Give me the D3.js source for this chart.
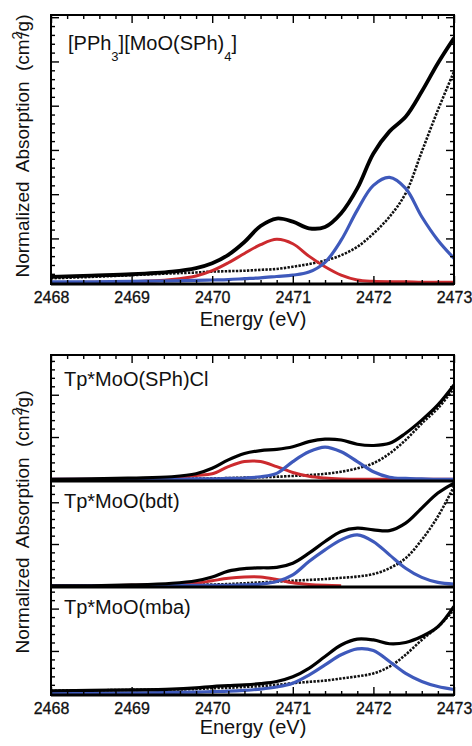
<!DOCTYPE html>
<html>
<head>
<meta charset="utf-8">
<script src="https://cdn.jsdelivr.net/npm/d3@7"></script>
<style>
  body { margin: 0; background: #fff; }
  svg { display: block; font-family: "Liberation Sans", Arial, sans-serif; }
</style>
</head>
<body>
<svg id="chart" width="472" height="746"></svg>
<script>
// energy grid (eV) shared by all curves
var energy = [2468, 2468.5, 2469, 2469.5, 2469.8, 2470, 2470.2, 2470.4, 2470.6, 2470.8,
              2471, 2471.2, 2471.4, 2471.6, 2471.8, 2472, 2472.2, 2472.4, 2472.6, 2472.8, 2473];
var xTickLabels = [2468, 2469, 2470, 2471, 2472, 2473];

// [PPh3][MoO(SPh)4]
var pphTotal = [0.13, 0.16, 0.19, 0.25, 0.33, 0.44, 0.63, 0.92, 1.28, 1.45, 1.38, 1.23, 1.26, 1.57, 2.13, 2.92, 3.42, 3.75, 4.32, 4.96, 5.53];
var pphRed   = [0.00, 0.01, 0.02, 0.07, 0.15, 0.27, 0.45, 0.66, 0.86, 0.98, 0.88, 0.60, 0.36, 0.17, 0.06, 0.03, 0.02, 0.02, 0.01, 0.01, 0.01];
var pphBlue  = [0.02, 0.02, 0.03, 0.04, 0.05, 0.06, 0.07, 0.09, 0.11, 0.14, 0.17, 0.24, 0.46, 0.96, 1.64, 2.20, 2.38, 2.13, 1.49, 0.96, 0.55];
var pphEdge  = [0.10, 0.13, 0.17, 0.21, 0.23, 0.25, 0.26, 0.27, 0.29, 0.31, 0.36, 0.42, 0.50, 0.62, 0.81, 1.11, 1.49, 2.02, 2.96, 3.90, 4.77];

// Tp*MoO(SPh)Cl
var sphTotal = [0.00, 0.01, 0.03, 0.06, 0.13, 0.26, 0.46, 0.61, 0.68, 0.71, 0.77, 0.89, 0.95, 0.93, 0.83, 0.80, 0.85, 1.09, 1.40, 1.76, 2.23];
var sphRed   = [0.00, 0.00, 0.01, 0.03, 0.09, 0.13, 0.30, 0.42, 0.42, 0.30, 0.16, 0.07, 0.03, 0.01, 0.00, 0.00, 0.00, 0.00, 0.00, 0.00, 0.00];
var sphBlue  = [0.00, 0.00, 0.00, 0.00, 0.01, 0.01, 0.02, 0.03, 0.06, 0.14, 0.42, 0.65, 0.76, 0.65, 0.42, 0.18, 0.05, 0.02, 0.01, 0.00, 0.00];
var sphEdge  = [0.00, 0.00, 0.01, 0.01, 0.02, 0.02, 0.03, 0.04, 0.05, 0.06, 0.08, 0.10, 0.13, 0.18, 0.26, 0.38, 0.61, 0.93, 1.32, 1.68, 2.15];

// Tp*MoO(bdt)
var bdtTotal = [0.00, 0.00, 0.02, 0.06, 0.12, 0.21, 0.35, 0.41, 0.43, 0.44, 0.54, 0.78, 1.06, 1.30, 1.38, 1.34, 1.32, 1.50, 1.86, 2.22, 2.46];
var bdtRed   = [0.00, 0.00, 0.01, 0.03, 0.06, 0.12, 0.18, 0.21, 0.21, 0.15, 0.07, 0.03, 0.01, 0.00, null, null, null, null, null, null, null];
var bdtBlue  = [0.00, 0.00, 0.00, 0.01, 0.01, 0.01, 0.01, 0.02, 0.04, 0.10, 0.26, 0.58, 0.86, 1.10, 1.22, 1.06, 0.74, 0.42, 0.20, 0.08, 0.04];
var bdtEdge  = [0.00, 0.00, 0.01, 0.02, 0.03, 0.03, 0.04, 0.06, 0.08, 0.10, 0.12, 0.14, 0.16, 0.19, 0.22, 0.28, 0.42, 0.66, 1.10, 1.66, 2.38];

// Tp*MoO(mba)
var mbaTotal = [0.06, 0.07, 0.08, 0.10, 0.13, 0.16, 0.18, 0.20, 0.23, 0.28, 0.39, 0.59, 0.87, 1.14, 1.28, 1.26, 1.17, 1.20, 1.34, 1.57, 2.05];
var mbaBlue  = [0.00, 0.00, 0.01, 0.02, 0.03, 0.04, 0.05, 0.07, 0.10, 0.15, 0.24, 0.43, 0.67, 0.91, 1.05, 1.01, 0.75, 0.47, 0.28, 0.16, 0.09];
var mbaEdge  = [0.06, 0.07, 0.08, 0.09, 0.10, 0.12, 0.13, 0.15, 0.17, 0.20, 0.24, 0.27, 0.30, 0.35, 0.40, 0.47, 0.63, 0.91, 1.26, 1.57, 1.97];

var RED = "#cc2a2e", BLUE = "#3e59bb";
var left = 51, right = 454;

var svg = d3.select("#chart");
var x = d3.scaleLinear().domain([2468, 2473]).range([left, right]);

var majorX = d3.range(2468, 2473.01, 1);
var minorX = d3.range(2468, 2473.01, 0.2).filter(d => Math.abs(d - Math.round(d)) > 0.01);

var panels = [
  {id: "p0", top: 15,  bottom: 284, ymax: 6.05, ymin: -0.03, lw: 3.8, total: pphTotal, red: pphRed, blue: pphBlue, edge: pphEdge, topTicks: true, botTicks: true},
  {id: "p1", top: 355, bottom: 481, ymax: 2.94, ymin: -0.04, lw: 3.2, total: sphTotal, red: sphRed, blue: sphBlue, edge: sphEdge, topTicks: true, botTicks: false},
  {id: "p2", top: 481, bottom: 587, ymax: 2.51, ymin: -0.03, lw: 3.2, total: bdtTotal, red: bdtRed, blue: bdtBlue, edge: bdtEdge, topTicks: false, botTicks: false},
  {id: "p3", top: 587, bottom: 695, ymax: 2.51, ymin: -0.04, lw: 3.2, total: mbaTotal, red: null, blue: mbaBlue, edge: mbaEdge, topTicks: false, botTicks: true}
];

var defs = svg.append("defs");

panels.forEach(function(p) {
  var y = d3.scaleLinear().domain([p.ymin, p.ymax]).range([p.bottom, p.top]);
  var g = svg.append("g");

  defs.append("clipPath").attr("id", "clip-" + p.id)
    .append("rect").attr("x", left).attr("y", p.top).attr("width", right - left).attr("height", p.bottom - p.top);

  var line = d3.line()
    .defined(d => d[1] != null)
    .x(d => x(d[0]))
    .y(d => y(d[1]))
    .curve(d3.curveCatmullRom.alpha(0.5));

  function pts(vals) { return energy.map((e, i) => [e, vals[i]]); }

  var lines = g.append("g").attr("clip-path", "url(#clip-" + p.id + ")");
  lines.append("path").attr("d", line(pts(p.edge)))
    .attr("fill", "none").attr("stroke", "#111").attr("stroke-width", 2.6)
    .attr("stroke-dasharray", "2.4,1.3");
  if (p.red) lines.append("path").attr("d", line(pts(p.red)))
    .attr("fill", "none").attr("stroke", RED).attr("stroke-width", 3);
  lines.append("path").attr("d", line(pts(p.blue)))
    .attr("fill", "none").attr("stroke", BLUE).attr("stroke-width", 3.2);
  lines.append("path").attr("d", line(pts(p.total)))
    .attr("fill", "none").attr("stroke", "#000").attr("stroke-width", p.lw)
    .attr("stroke-linejoin", "round");

  // inward ticks on left and right
  var yMajor = d3.range(1, Math.floor(p.ymax) + 0.01, 1);
  var yMinor = d3.range(0.2, p.ymax, 0.2).filter(d => Math.abs(d - Math.round(d)) > 0.01);
  [[d3.axisLeft, left], [d3.axisRight, right]].forEach(function(a) {
    g.append("g").attr("transform", "translate(" + a[1] + ",0)")
      .call(a[0](y).tickValues(yMinor).tickSize(-4).tickFormat(""))
      .call(s => s.select(".domain").remove());
    g.append("g").attr("transform", "translate(" + a[1] + ",0)")
      .call(a[0](y).tickValues(yMajor).tickSize(-8).tickFormat(""))
      .call(s => s.select(".domain").remove());
  });
  if (p.topTicks) {
    g.append("g").attr("transform", "translate(0," + p.top + ")")
      .call(d3.axisTop(x).tickValues(minorX).tickSize(-4).tickFormat(""))
      .call(s => s.select(".domain").remove());
    g.append("g").attr("transform", "translate(0," + p.top + ")")
      .call(d3.axisTop(x).tickValues(majorX).tickSize(-8).tickFormat(""))
      .call(s => s.select(".domain").remove());
  }
  if (p.botTicks) {
    g.append("g").attr("transform", "translate(0," + p.bottom + ")")
      .call(d3.axisBottom(x).tickValues(minorX).tickSize(-4).tickFormat(""))
      .call(s => s.select(".domain").remove());
    g.append("g").attr("transform", "translate(0," + p.bottom + ")")
      .call(d3.axisBottom(x).tickValues(majorX).tickSize(-8).tickFormat(""))
      .call(s => s.select(".domain").remove());
  }
  g.selectAll(".tick line").attr("stroke", "#000").attr("stroke-width", 1.4);

  g.append("rect").attr("x", left).attr("y", p.top)
    .attr("width", right - left).attr("height", p.bottom - p.top)
    .attr("fill", "none").attr("stroke", "#000").attr("stroke-width", 2);
  g.append("line").attr("x1", left).attr("x2", right).attr("y1", p.bottom).attr("y2", p.bottom)
    .attr("stroke", "#000").attr("stroke-width", 3);
});

// x tick labels and titles
[284, 695].forEach(function(yb) {
  var ax = svg.append("g").attr("transform", "translate(0," + yb + ")")
    .call(d3.axisBottom(x).tickValues(xTickLabels).tickSize(0).tickPadding(8).tickFormat(d3.format("d")));
  ax.select(".domain").remove();
  ax.selectAll("text").attr("font-size", 16).attr("fill", "#111")
    .attr("stroke", "#111").attr("stroke-width", 0.3)
    .attr("font-family", "Liberation Sans, Arial, sans-serif");
});

svg.append("text").attr("x", 253).attr("y", 326).attr("text-anchor", "middle")
  .attr("font-size", 20).attr("fill", "#111").text("Energy (eV)");
svg.append("text").attr("x", 253).attr("y", 734).attr("text-anchor", "middle")
  .attr("font-size", 20).attr("fill", "#111").text("Energy (eV)");

function yTitle(cy) {
  var t = svg.append("text").attr("transform", "translate(29," + cy + ") rotate(-90)")
    .attr("text-anchor", "middle").attr("font-size", 19).attr("fill", "#111")
    .attr("word-spacing", 5);
  t.append("tspan").text("Normalized Absorption (cm");
  t.append("tspan").attr("dy", -7).attr("font-size", 14).text("2");
  t.append("tspan").attr("dy", 7).attr("dx", -5).text("/g)");
}
yTitle(146);
yTitle(522);

// panel labels
var lab = svg.append("text").attr("x", 68).attr("y", 50).attr("font-size", 20).attr("fill", "#111");
lab.append("tspan").text("[PPh");
lab.append("tspan").attr("dy", 11).attr("font-size", 13).text("3");
lab.append("tspan").attr("dy", -11).text("][MoO(SPh)");
lab.append("tspan").attr("dy", 11).attr("font-size", 13).text("4");
lab.append("tspan").attr("dy", -11).text("]");

[["Tp*MoO(SPh)Cl", 386], ["Tp*MoO(bdt)", 508], ["Tp*MoO(mba)", 614]].forEach(function(d) {
  svg.append("text").attr("x", 64).attr("y", d[1]).attr("font-size", 20).attr("fill", "#111").text(d[0]);
});
</script>
</body>
</html>
